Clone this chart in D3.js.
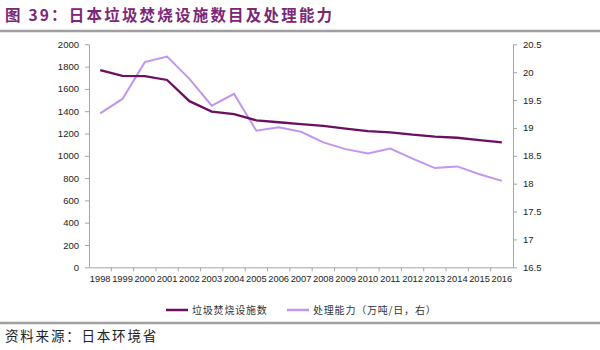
<!DOCTYPE html>
<html><head><meta charset="utf-8">
<script src="https://cdn.jsdelivr.net/npm/d3@7"></script>
<style>body{margin:0;background:#fff}svg{display:block}</style>
</head><body>
<svg id="c" width="600" height="350"></svg>
<script>
const years = ["1998","1999","2000","2001","2002","2003","2004","2005","2006","2007","2008","2009","2010","2011","2012","2013","2014","2015","2016"];
const facilities = [1769,1717,1715,1680,1490,1396,1374,1318,1301,1285,1269,1243,1221,1211,1189,1172,1162,1141,1120];
const capacity = [19.26,19.52,20.18,20.28,19.88,19.40,19.61,18.95,19.01,18.93,18.74,18.62,18.54,18.63,18.45,18.28,18.31,18.17,18.05];
const leftTicks = [0,200,400,600,800,1000,1200,1400,1600,1800,2000];
const rightTicks = [16.5,17,17.5,18,18.5,19,19.5,20,20.5];
const seriesNames = ["垃圾焚烧设施数","处理能力（万吨/日，右）"];
const titleText = "图 39：日本垃圾焚烧设施数目及处理能力";
const sourceText = "资料来源：日本环境省";

const svg = d3.select("#c");
const L = 89, R = 513, T = 44.3, B = 267.3;
const dark = "#6b0f63", light = "#c096ee", axisCol = "#a6a6a6";
const numFont = "'Liberation Sans', Arial, sans-serif";
const cjk = "'Noto Sans CJK SC', sans-serif";

// title
svg.append("text").attr("x",5).attr("y",21).attr("fill","#7b2677")
  .attr("font-family",cjk).attr("font-weight","bold").attr("font-size",15.5)
  .attr("letter-spacing",2.2).text(titleText);
svg.append("line").attr("x1",0).attr("x2",600).attr("y1",31).attr("y2",31)
  .attr("stroke","#a0a0a0").attr("stroke-width",2.5);
svg.append("line").attr("x1",0).attr("x2",600).attr("y1",323).attr("y2",323)
  .attr("stroke","#a0a0a0").attr("stroke-width",2.5);
svg.append("text").attr("x",5).attr("y",341).attr("fill","#222")
  .attr("font-family",cjk).attr("font-size",13.5).attr("letter-spacing",1.8).text(sourceText);

const x = d3.scaleBand().domain(years).range([L,R]);
const yl = d3.scaleLinear().domain([0,2000]).range([B,T]);
const yr = d3.scaleLinear().domain([16.5,20.5]).range([B,T]);

const styleAxis = g => {
  g.selectAll("path,line").attr("stroke",axisCol);
  g.selectAll("text").attr("font-family",numFont).attr("font-size",9.5).attr("fill","#222");
};

svg.append("g").attr("transform",`translate(${L},0)`)
  .call(d3.axisLeft(yl).tickValues(leftTicks).tickSize(4).tickSizeOuter(0).tickPadding(6).tickFormat(d3.format("d")))
  .call(styleAxis);
svg.append("g").attr("transform",`translate(${R},0)`)
  .call(d3.axisRight(yr).tickValues(rightTicks).tickSize(4).tickSizeOuter(0).tickPadding(6).tickFormat(d=>String(d)))
  .call(styleAxis);
const xa = svg.append("g").attr("transform",`translate(0,${B})`)
  .call(d3.axisBottom(x).tickSize(0).tickPadding(8).tickSizeOuter(0))
  .call(styleAxis);
xa.selectAll("text").attr("font-size",9.3);
// band boundary ticks
svg.append("g").selectAll("line").data(years.slice(1)).join("line")
  .attr("x1",d=>x(d)).attr("x2",d=>x(d)).attr("y1",B).attr("y2",B+4).attr("stroke",axisCol);

const lineL = d3.line().x((d,i)=>x(years[i])+x.bandwidth()/2).y(d=>yl(d));
const lineR = d3.line().x((d,i)=>x(years[i])+x.bandwidth()/2).y(d=>yr(d));
svg.append("path").datum(capacity).attr("d",lineR).attr("fill","none")
  .attr("stroke",light).attr("stroke-width",2);
svg.append("path").datum(facilities).attr("d",lineL).attr("fill","none")
  .attr("stroke",dark).attr("stroke-width",2.3);

// legend
const leg = [{name:seriesNames[0],col:dark,x:166},{name:seriesNames[1],col:light,x:287}];
leg.forEach(d=>{
  svg.append("line").attr("x1",d.x).attr("x2",d.x+22).attr("y1",310).attr("y2",310)
    .attr("stroke",d.col).attr("stroke-width",2.5);
  svg.append("text").attr("x",d.x+26).attr("y",314).attr("font-family",cjk)
    .attr("font-size",10).attr("letter-spacing",0.8).attr("fill","#333").text(d.name);
});
</script>
</body></html>
